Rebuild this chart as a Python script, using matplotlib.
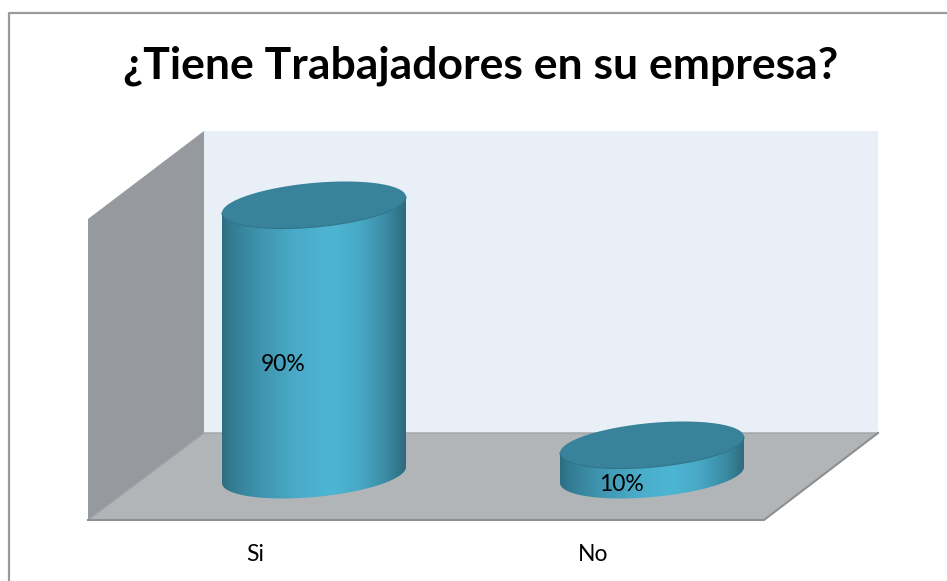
import numpy as np
import matplotlib
matplotlib.use("Agg")
import matplotlib.pyplot as plt
from matplotlib.colors import LinearSegmentedColormap
from matplotlib.patches import Polygon, PathPatch
from matplotlib.path import Path

# ---- data ----
categories = ["Si", "No"]
values = [90, 10]
value_labels = ["90%", "10%"]
title = "¿Tiene Trabajadores en su empresa?"

W, H = 947, 581
plt.rcParams["font.family"] = ["Lato", "DejaVu Sans"]
fig = plt.figure(figsize=(W / 100, H / 100), dpi=100, facecolor="white")

# ---- chart frame and 3D walls (pixel space) ----
bg = fig.add_axes([0, 0, 1, 1])
bg.set_xlim(0, W)
bg.set_ylim(H, 0)
bg.axis("off")
bg.plot([8.5, 8.5, W + 5], [H + 5, 12.5, 12.5], color="#9a9a9a", lw=1.6, clip_on=False)
bg.add_patch(Polygon([(204, 131), (878, 131), (878, 433), (204, 433)], fc="#e8eff6", ec="none"))
bg.add_patch(Polygon([(88, 219), (204, 131), (204, 433), (88, 520)], fc="#96999d", ec="none"))
bg.add_patch(Polygon([(88, 520), (204, 433), (878, 433), (764, 520)], fc="#b2b5b8", ec="none"))
bg.plot([88, 204, 878], [520, 433, 433], color="#a0a2a5", lw=1)
bg.plot([88, 764, 878], [520, 520, 433], color="#8e8f90", lw=1.5)
bg.text(481, 66, title, ha="center", va="center", fontsize=32, fontweight="bold", color="black")

# ---- value axes: 338 px per category, 3 px per percentage point ----
px_cat, px_val = 338.0, 3.0
x_left, x_right, y_top, y_bottom = 88, 764, 131, 520
ax = fig.add_axes([x_left / W, 1 - y_bottom / H, (x_right - x_left) / W, (y_bottom - y_top) / H])
ax.patch.set_alpha(0)
for s in ax.spines.values():
    s.set_visible(False)

half_w = 92 / px_cat          # cylinder half width
skew = 8 / px_val             # tilt of the ellipse
minor = 22.1 / px_val         # ellipse minor extent
t_front = np.linspace(0, np.pi, 120)
t_all = np.linspace(0, 2 * np.pi, 240)
cmap = LinearSegmentedColormap.from_list(
    "cyl",
    [(0, "#2d6d82"), (0.05, "#337c93"), (0.2, "#3f93ad"), (0.4, "#49abc8"),
     (0.6, "#4db6d4"), (0.75, "#48a9c6"), (0.9, "#3a8aa2"), (1, "#2e6a7d")],
)
grad = np.linspace(0, 1, 256).reshape(1, -1)


def ell(cx, cy, t):
    return cx + half_w * np.cos(t), cy + skew * np.cos(t) - minor * np.sin(t)


for i, v in enumerate(values):
    bx, by = ell(i, 0, t_front)          # front of the base, right to left
    tx, ty = ell(i, v, t_front[::-1])    # front of the top, left to right
    body = Path(np.r_[np.c_[bx, by], np.c_[tx, ty], [[bx[0], by[0]]]])
    im = ax.imshow(grad, cmap=cmap, aspect="auto", zorder=3, interpolation="bilinear",
                   extent=(i - half_w, i + half_w, -15, 110))
    im.set_clip_path(PathPatch(body, transform=ax.transData))
    ex, ey = ell(i, v, t_all)
    ax.fill(ex, ey, color="#38829b", ec="none", zorder=4)
    fx, fy = ell(i, v, t_front)
    ax.plot(fx, fy, color="#2f7489", lw=0.8, zorder=5)
    ax.annotate(value_labels[i], (i, v / 2), xytext=(-22, -17.5), textcoords="offset points",
                ha="center", va="center", fontsize=16.5, color="black", zorder=6)

ax.set_xlim((x_left - 314) / px_cat, (x_right - 314) / px_cat)
ax.set_ylim(-(y_bottom - 475) / px_val, (475 - y_top) / px_val)
ax.set_yticks([])
ax.set_xticks(np.arange(len(categories)) - 0.175)
ax.set_xticklabels(categories, fontsize=16.5)
ax.tick_params(axis="x", length=0, pad=17)

fig.savefig("out.png", dpi=100)
